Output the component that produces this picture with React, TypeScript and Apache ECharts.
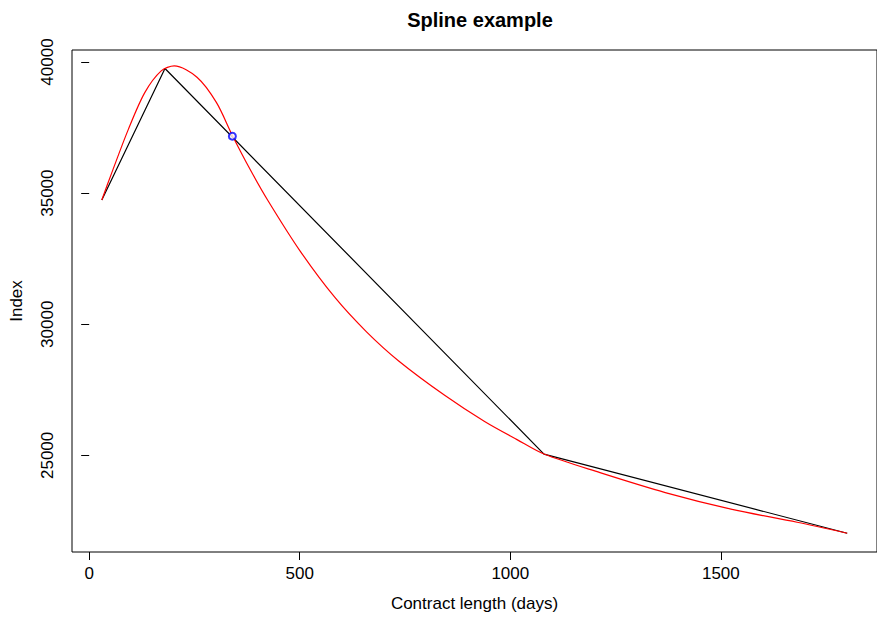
import React, { useEffect, useRef } from 'react'
import * as echarts from 'echarts'

// black polyline: the observed points
const contractDays = [30, 180, 1080, 1800]
const indexValues = [34740, 39750, 25050, 22030]

// red spline, values
const splineDays = [30, 54, 93, 132, 171, 202, 256, 302, 340, 382, 424, 501, 583, 658, 735, 845, 939, 1016, 1080, 1213, 1368, 1524, 1681, 1800]
const splineValues = [34740, 35790, 37430, 38830, 39660, 39850, 39420, 38460, 37200, 35910, 34730, 32790, 31030, 29720, 28600, 27280, 26290, 25600, 25050, 24340, 23580, 22950, 22450, 22030]

// blue marker
const markDays = [340]
const markValues = [37170]

const xTicks = [0, 500, 1000, 1500]
const yTicks = [25000, 30000, 35000, 40000]

const FONT = 'Liberation Sans'

const zip = (xs: number[], ys: number[]) => xs.map((x, i) => [x, ys[i]])

const App = () => {
  const chartRef = useRef<HTMLDivElement>(null)

  useEffect(() => {
    if (!chartRef.current) return
    const chart = echarts.init(chartRef.current, undefined, { renderer: 'svg' })

    const option: echarts.EChartsOption = {
      animation: false,
      backgroundColor: '#fff',
      textStyle: { fontFamily: FONT },
      grid: {
        left: 72,
        top: 50,
        width: 816,
        height: 503,
        show: true,
        borderColor: '#000',
        borderWidth: 1,
      },
      graphic: [
        {
          type: 'text',
          x: 480,
          y: 20,
          style: {
            text: 'Spline example',
            textAlign: 'center',
            textVerticalAlign: 'middle',
            font: `bold 20px ${FONT}`,
            fill: '#000',
          },
        },
      ],
      xAxis: {
        type: 'value',
        min: -40.8,
        max: 1870.8,
        name: 'Contract length (days)',
        nameLocation: 'middle',
        nameGap: 43,
        nameTextStyle: { fontSize: 17, color: '#000', fontFamily: FONT },
        axisLine: { show: false },
        splitLine: { show: false },
        axisTick: {
          show: true,
          length: 8,
          customValues: xTicks,
          lineStyle: { color: '#000' },
        },
        axisLabel: {
          customValues: xTicks,
          formatter: (v: number) => String(v),
          fontSize: 17,
          color: '#000',
          margin: 13,
          fontFamily: FONT,
        },
      },
      yAxis: {
        type: 'value',
        min: 21315,
        max: 40457,
        name: 'Index',
        nameLocation: 'middle',
        nameGap: 47,
        nameTextStyle: { fontSize: 17, color: '#000', fontFamily: FONT },
        axisLine: { show: false },
        splitLine: { show: false },
        axisTick: {
          show: true,
          length: 8,
          customValues: yTicks,
          lineStyle: { color: '#000' },
        },
        axisLabel: {
          customValues: yTicks,
          formatter: (v: number) => String(v),
          rotate: 90,
          fontSize: 17,
          color: '#000',
          margin: 16,
          fontFamily: FONT,
        },
      },
      series: [
        {
          type: 'line',
          data: zip(contractDays, indexValues),
          symbol: 'none',
          lineStyle: { color: '#000', width: 1.2 },
        },
        {
          type: 'line',
          data: zip(splineDays, splineValues),
          symbol: 'none',
          smooth: 0.3,
          lineStyle: { color: '#ff0000', width: 1.2 },
        },
        {
          type: 'scatter',
          data: zip(markDays, markValues),
          symbol: 'emptyCircle',
          symbolSize: 7,
          itemStyle: { color: '#0000ff', borderColor: '#0000ff', borderWidth: 1.2 },
          z: 5,
        },
      ],
    }

    chart.setOption(option)
    return () => {
      chart.dispose()
    }
  }, [])

  return (
    <div
      ref={chartRef}
      style={{ position: 'fixed', left: 0, top: 0, width: 877, height: 617 }}
    />
  )
}

export default App
